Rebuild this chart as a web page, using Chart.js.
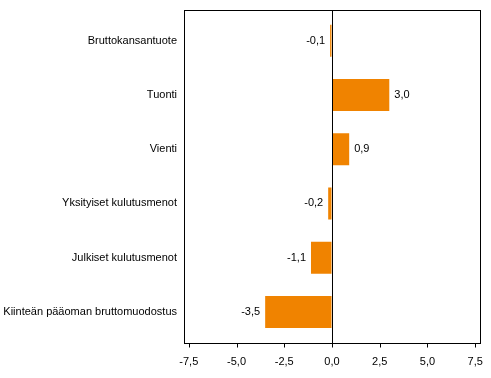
<!DOCTYPE html>
<html>
<head>
<meta charset="utf-8">
<script src="https://cdn.jsdelivr.net/npm/chart.js@4/dist/chart.umd.min.js"></script>
<style>
  html, body { margin: 0; padding: 0; background: #fff; }
  canvas { display: block; }
</style>
</head>
<body>
<canvas id="myChart" width="491" height="378"></canvas>
<script>
//Chart data
const categories = [
   'Bruttokansantuote',
   'Tuonti',
   'Vienti',
   'Yksityiset kulutusmenot',
   'Julkiset kulutusmenot',
   'Kiinteän pääoman bruttomuodostus'
];
const values = [-0.1, 3.0, 0.9, -0.2, -1.1, -3.5];
const xTicks = [-7.5, -5, -2.5, 0, 2.5, 5, 7.5];

const barColor = '#f08300';
const fmt = v => v.toFixed(1).replace('.', ',');

//Frame, zero line, tick marks and value labels
const framePlugin = {
   id: 'frame',
   afterDatasetsDraw(chart) {
      const {ctx, chartArea, scales} = chart;
      const left = Math.round(chartArea.left) + 0.5;
      const right = Math.round(chartArea.right) + 0.5;
      const top = Math.round(chartArea.top) - 4 + 0.5;
      const bottom = Math.round(chartArea.bottom) + 4 + 0.5;
      ctx.save();
      ctx.strokeStyle = '#000';
      ctx.lineWidth = 1;
      ctx.strokeRect(left, top, right - left, bottom - top);

      // zero line
      const x0 = Math.round(scales.x.getPixelForValue(0)) + 0.5;
      ctx.beginPath();
      ctx.moveTo(x0, top);
      ctx.lineTo(x0, bottom);
      ctx.stroke();

      // tick marks under the frame
      ctx.beginPath();
      xTicks.forEach(v => {
         const x = Math.round(scales.x.getPixelForValue(v)) + 0.5;
         ctx.moveTo(x, bottom);
         ctx.lineTo(x, bottom + 4);
      });
      ctx.stroke();

      // value labels
      ctx.font = '11px "Liberation Sans", Arial, sans-serif';
      ctx.fillStyle = '#000';
      ctx.textBaseline = 'middle';
      const meta = chart.getDatasetMeta(0);
      meta.data.forEach((bar, i) => {
         const v = values[i];
         if (v >= 0) {
            ctx.textAlign = 'left';
            ctx.fillText(fmt(v), bar.x + 5, bar.y);
         } else {
            ctx.textAlign = 'right';
            ctx.fillText(fmt(v), bar.x - 5, bar.y);
         }
      });
      ctx.restore();
   }
};

Chart.defaults.font.family = '"Liberation Sans", Arial, sans-serif';
Chart.defaults.font.size = 11;
Chart.defaults.color = '#000';

const ctx = document.getElementById('myChart').getContext('2d');
const myChart = new Chart(ctx, {
   type: 'bar',
   data: {
      labels: categories,
      datasets: [{
         data: values,
         backgroundColor: barColor,
         borderWidth: 0,
         categoryPercentage: 1,
         barPercentage: 0.59
      }]
   },
   options: {
      indexAxis: 'y',
      responsive: false,
      animation: false,
      layout: { padding: { top: 12, right: 11, bottom: 0, left: 0 } },
      scales: {
         x: {
            min: -7.75,
            max: 7.75,
            afterBuildTicks: axis => { axis.ticks = xTicks.map(v => ({ value: v })); },
            afterFit: axis => {
               axis.height = 39;
               axis.paddingLeft = 0;
               axis.paddingRight = 0;
            },
            grid: { display: true, drawOnChartArea: false, drawTicks: false },
            border: { display: false },
            ticks: {
               padding: 16,
               maxRotation: 0,
               autoSkip: false,
               callback: v => fmt(v)
            }
         },
         y: {
            afterFit: axis => { axis.width = 184; },
            grid: { display: false, drawTicks: false },
            border: { display: false },
            ticks: { padding: 7, autoSkip: false }
         }
      },
      plugins: {
         legend: { display: false },
         tooltip: { enabled: false }
      }
   },
   plugins: [framePlugin]
});
</script>
</body>
</html>
